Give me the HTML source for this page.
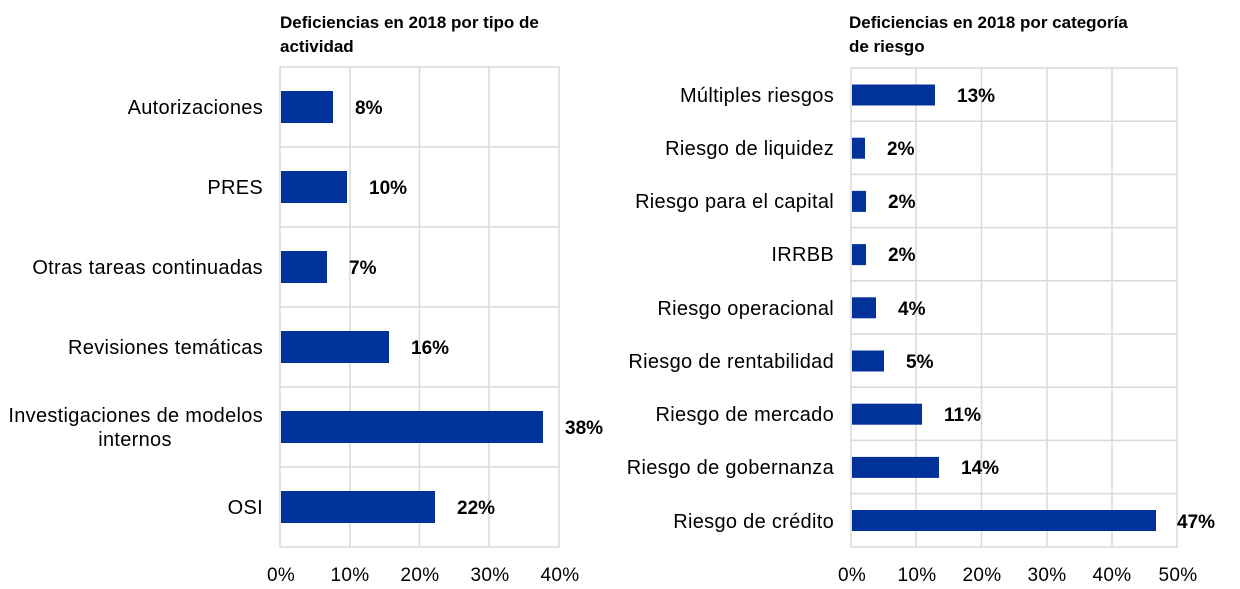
<!DOCTYPE html>
<html><head><meta charset="utf-8"><style>
body{margin:0;background:#fff;}
svg{display:block;font-family:"Liberation Sans",Arial,sans-serif;}
.t{font-weight:bold;font-size:17px;fill:#000}
.c{font-size:20px;fill:#000;text-anchor:end;letter-spacing:0.3px}
.v{font-size:19px;font-weight:bold;fill:#000}
.x{font-size:19px;fill:#000;text-anchor:middle;letter-spacing:0.3px}
.g{stroke:#d9d9d9;stroke-width:1.5;fill:none}
.b{fill:#003299}
</style></head><body>
<svg width="1240" height="589" viewBox="0 0 1240 589">
<!-- Left chart -->
<text class="t" x="280" y="28">Deficiencias en 2018 por tipo de</text>
<text class="t" x="280" y="52">actividad</text>
<g class="g">
<rect x="280" y="67" width="279" height="480"/>
<line x1="350" y1="67" x2="350" y2="547"/><line x1="419.5" y1="67" x2="419.5" y2="547"/><line x1="489" y1="67" x2="489" y2="547"/>
<line x1="280" y1="147" x2="559" y2="147"/><line x1="280" y1="227" x2="559" y2="227"/><line x1="280" y1="307" x2="559" y2="307"/><line x1="280" y1="387" x2="559" y2="387"/><line x1="280" y1="467" x2="559" y2="467"/>
</g>
<rect class="b" x="281" y="91" width="52" height="32"/>
<rect class="b" x="281" y="171" width="66" height="32"/>
<rect class="b" x="281" y="251" width="46" height="32"/>
<rect class="b" x="281" y="331" width="108" height="32"/>
<rect class="b" x="281" y="411" width="262" height="32"/>
<rect class="b" x="281" y="491" width="154" height="32"/>
<text class="v" x="355" y="114">8%</text>
<text class="v" x="369" y="194">10%</text>
<text class="v" x="349" y="274">7%</text>
<text class="v" x="411" y="354">16%</text>
<text class="v" x="565" y="434">38%</text>
<text class="v" x="457" y="514">22%</text>
<text class="c" x="263" y="114">Autorizaciones</text>
<text class="c" x="263" y="194">PRES</text>
<text class="c" x="263" y="274">Otras tareas continuadas</text>
<text class="c" x="263" y="354">Revisiones temáticas</text>
<text class="c" x="263" y="422">Investigaciones de modelos</text>
<text class="c" x="135" y="446" style="text-anchor:middle">internos</text>
<text class="c" x="263" y="514">OSI</text>
<text class="x" x="281" y="581">0%</text>
<text class="x" x="350" y="581">10%</text>
<text class="x" x="420" y="581">20%</text>
<text class="x" x="490" y="581">30%</text>
<text class="x" x="560" y="581">40%</text>
<!-- Right chart -->
<text class="t" x="849" y="28">Deficiencias en 2018 por categoría</text>
<text class="t" x="849" y="52">de riesgo</text>
<g class="g">
<rect x="851" y="68" width="326" height="479"/>
<line x1="916" y1="68" x2="916" y2="547"/><line x1="981.5" y1="68" x2="981.5" y2="547"/><line x1="1047" y1="68" x2="1047" y2="547"/><line x1="1112" y1="68" x2="1112" y2="547"/>
<line x1="851" y1="121.2" x2="1177" y2="121.2"/><line x1="851" y1="174.4" x2="1177" y2="174.4"/><line x1="851" y1="227.6" x2="1177" y2="227.6"/><line x1="851" y1="280.8" x2="1177" y2="280.8"/><line x1="851" y1="334" x2="1177" y2="334"/><line x1="851" y1="387.2" x2="1177" y2="387.2"/><line x1="851" y1="440.4" x2="1177" y2="440.4"/><line x1="851" y1="493.6" x2="1177" y2="493.6"/>
</g>
<rect class="b" x="852" y="84.5" width="83" height="21"/>
<rect class="b" x="852" y="137.7" width="13" height="21"/>
<rect class="b" x="852" y="190.9" width="14" height="21"/>
<rect class="b" x="852" y="244.1" width="14" height="21"/>
<rect class="b" x="852" y="297.3" width="24" height="21"/>
<rect class="b" x="852" y="350.5" width="32" height="21"/>
<rect class="b" x="852" y="403.7" width="70" height="21"/>
<rect class="b" x="852" y="456.9" width="87" height="21"/>
<rect class="b" x="852" y="510" width="304" height="21"/>
<text class="v" x="957" y="102">13%</text>
<text class="v" x="887" y="155">2%</text>
<text class="v" x="888" y="208">2%</text>
<text class="v" x="888" y="261">2%</text>
<text class="v" x="898" y="315">4%</text>
<text class="v" x="906" y="368">5%</text>
<text class="v" x="944" y="421">11%</text>
<text class="v" x="961" y="474">14%</text>
<text class="v" x="1177" y="528">47%</text>
<text class="c" x="834" y="102">Múltiples riesgos</text>
<text class="c" x="834" y="155">Riesgo de liquidez</text>
<text class="c" x="834" y="208">Riesgo para el capital</text>
<text class="c" x="834" y="261">IRRBB</text>
<text class="c" x="834" y="315">Riesgo operacional</text>
<text class="c" x="834" y="368">Riesgo de rentabilidad</text>
<text class="c" x="834" y="421">Riesgo de mercado</text>
<text class="c" x="834" y="474">Riesgo de gobernanza</text>
<text class="c" x="834" y="528">Riesgo de crédito</text>
<text class="x" x="852" y="581">0%</text>
<text class="x" x="917" y="581">10%</text>
<text class="x" x="982" y="581">20%</text>
<text class="x" x="1047" y="581">30%</text>
<text class="x" x="1112" y="581">40%</text>
<text class="x" x="1178" y="581">50%</text>
</svg>
</body></html>
